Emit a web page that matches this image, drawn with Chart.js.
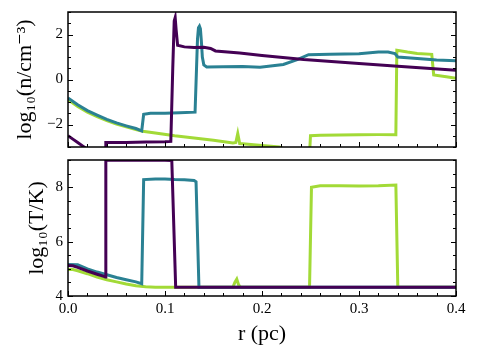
<!DOCTYPE html>
<html>
<head>
<meta charset="utf-8">
<script src="https://cdn.jsdelivr.net/npm/chart.js@4.4.1/dist/chart.umd.min.js"></script>
<style>
  body { margin: 0; background: #fff; width: 478px; height: 357px; position: relative; overflow: hidden; }
  canvas { position: absolute; left: 0; }
</style>
</head>
<body>
<canvas id="densChart" width="478" height="150" style="top:0px"></canvas>
<canvas id="tempChart" width="478" height="207" style="top:150px"></canvas>
<script>
// radius (pc) and log10 density for each run
const rPurpleN = [0, 0.005, 0.01, 0.015, 0.02, 0.035, 0.0385, 0.039, 0.06, 0.08, 0.1, 0.106, 0.108, 0.1095, 0.1105, 0.1115, 0.113, 0.12, 0.13, 0.14, 0.147, 0.152, 0.177, 0.2, 0.243, 0.3, 0.34, 0.4];
const logNPurple = [-2.5, -2.65, -2.8, -2.95, -3.1, -3.5, -3.5, -2.8, -2.8, -2.78, -2.77, -2.75, 0.5, 2.6, 2.75, 2.2, 1.52, 1.45, 1.42, 1.43, 1.38, 1.27, 1.18, 1.07, 0.89, 0.71, 0.59, 0.41];

const rTealN = [0, 0.01, 0.02, 0.03, 0.04, 0.05, 0.06, 0.07, 0.076, 0.078, 0.085, 0.1, 0.115, 0.131, 0.1325, 0.1335, 0.1345, 0.1355, 0.1365, 0.1375, 0.1385, 0.14, 0.143, 0.16, 0.18, 0.198, 0.222, 0.237, 0.248, 0.27, 0.3, 0.32, 0.33, 0.337, 0.34, 0.36, 0.38, 0.4];
const logNTeal = [-0.82, -1.12, -1.38, -1.58, -1.77, -1.93, -2.06, -2.18, -2.28, -1.55, -1.5, -1.5, -1.48, -1.45, 0.5, 1.8, 2.3, 2.37, 2.25, 1.7, 1.0, 0.65, 0.56, 0.57, 0.58, 0.55, 0.67, 0.89, 1.1, 1.12, 1.14, 1.22, 1.22, 1.15, 1.0, 0.93, 0.87, 0.83];

const rGreenN = [0, 0.01, 0.02, 0.03, 0.04, 0.05, 0.06, 0.07, 0.077, 0.09, 0.11, 0.13, 0.15, 0.17, 0.173, 0.175, 0.177, 0.18, 0.2, 0.218, 0.23, 0.249, 0.25, 0.26, 0.28, 0.3, 0.32, 0.338, 0.339, 0.35, 0.36, 0.375, 0.377, 0.39, 0.4];
const logNGreen = [-0.9, -1.2, -1.45, -1.65, -1.83, -1.98, -2.1, -2.22, -2.3, -2.38, -2.5, -2.6, -2.7, -2.82, -2.8, -2.4, -2.85, -2.86, -2.93, -3.0, -3.2, -3.3, -2.5, -2.48, -2.47, -2.46, -2.45, -2.45, 1.3, 1.22, 1.16, 1.12, 0.2, 0.12, 0.06];

// radius (pc) and log10 temperature for each run
const rPurpleT = [0, 0.005, 0.01, 0.02, 0.03, 0.037, 0.0385, 0.039, 0.06, 0.08, 0.1, 0.107, 0.111, 0.4];
const logTPurple = [5.12, 5.11, 5.05, 4.92, 4.8, 4.72, 4.7, 9.0, 8.99, 8.99, 8.99, 8.98, 4.32, 4.32];

const rTealT = [0, 0.01, 0.02, 0.03, 0.04, 0.05, 0.06, 0.07, 0.076, 0.078, 0.09, 0.1, 0.11, 0.12, 0.13, 0.132, 0.135, 0.4];
const logTTeal = [5.16, 5.15, 5.0, 4.88, 4.78, 4.68, 4.6, 4.52, 4.45, 8.28, 8.3, 8.3, 8.28, 8.27, 8.25, 8.2, 4.32, 4.32];

const rGreenT = [0, 0.005, 0.01, 0.02, 0.03, 0.04, 0.05, 0.06, 0.07, 0.08, 0.09, 0.17, 0.172, 0.174, 0.176, 0.178, 0.249, 0.251, 0.26, 0.28, 0.3, 0.32, 0.338, 0.34, 0.4];
const logTGreen = [4.97, 4.97, 4.93, 4.82, 4.7, 4.6, 4.52, 4.44, 4.38, 4.34, 4.32, 4.32, 4.5, 4.62, 4.4, 4.32, 4.32, 8.0, 8.05, 8.05, 8.04, 8.05, 8.08, 4.32, 4.32];

const xTicks = [0, 0.1, 0.2, 0.3, 0.4];
const nTicks = [-2, 0, 2];
const tTicks = [4, 6, 8];

const PURPLE = '#440154', TEAL = '#2a8193', GREEN = '#a2da37';
const SERIF = "'Liberation Serif', 'DejaVu Serif', serif";

function pts(xs, ys) {
  return xs.map((x, i) => ({ x: x, y: ys[i] }));
}

function fmt(v) {
  return v < 0 ? '\u2212' + Math.abs(v) : String(v);
}

// inward tick marks on left, right and bottom plus the box
const frameTicks = {
  id: 'frameTicks',
  afterDraw(chart) {
    const { ctx, chartArea: a, scales } = chart;
    const x = scales.x, y = scales.y;
    const line = (x1, y1, x2, y2) => { ctx.beginPath(); ctx.moveTo(x1, y1); ctx.lineTo(x2, y2); ctx.stroke(); };
    ctx.save();
    ctx.strokeStyle = '#000';
    ctx.lineWidth = 1;
    for (let i = 0; i <= 20; i++) {
      const v = i * 0.02;
      const px = Math.round(x.getPixelForValue(v)) + 0.5;
      const len = i % 5 === 0 ? 5 : 3;
      line(px, a.bottom, px, a.bottom - len);
    }
    for (let i = 0; ; i++) {
      const v = y.min + i * 0.5;
      if (v > y.max + 1e-9) break;
      const py = Math.round(y.getPixelForValue(v)) + 0.5;
      const len = Math.abs(v % 2) < 1e-9 ? 5 : 3;
      line(a.left, py, a.left + len, py);
      line(a.right, py, a.right - len, py);
    }
    ctx.lineWidth = 1.5;
    ctx.strokeRect(a.left, a.top, a.right - a.left, a.bottom - a.top);
    ctx.restore();
  }
};

function noPad(s) {
  s.paddingTop = 0; s.paddingBottom = 0; s.paddingLeft = 0; s.paddingRight = 0;
}

function makePanel(id, sets, yMin, yMax, yTickVals, yTitle, titlePad, showX, pad) {
  return new Chart(document.getElementById(id).getContext('2d'), {
    type: 'line',
    data: {
      datasets: sets.map(s => ({
        data: s.data,
        borderColor: s.color,
        borderWidth: 3,
        pointRadius: 0,
        tension: 0,
        fill: false,
        clip: 0,
        order: s.order
      }))
    },
    options: {
      responsive: false,
      animation: false,
      devicePixelRatio: 1,
      layout: { padding: pad },
      plugins: { legend: { display: false }, tooltip: { enabled: false } },
      scales: {
        x: {
          type: 'linear',
          min: 0,
          max: 0.4,
          display: showX,
          grid: { display: false, drawTicks: false },
          border: { display: false },
          afterBuildTicks: s => { s.ticks = xTicks.map(v => ({ value: v })); },
          afterFit: s => { noPad(s); if (showX) s.height = 61; },
          ticks: {
            padding: 4,
            color: '#000',
            font: { family: SERIF, size: 15 },
            callback: v => v.toFixed(1)
          },
          title: {
            display: showX,
            text: 'r (pc)',
            color: '#000',
            font: { family: SERIF, size: 22 },
            padding: { top: 0, bottom: 10 }
          }
        },
        y: {
          min: yMin,
          max: yMax,
          grid: { display: false, drawTicks: false },
          border: { display: false },
          afterBuildTicks: s => { s.ticks = yTickVals.map(v => ({ value: v })); },
          afterFit: s => { noPad(s); s.width = 68; },
          ticks: {
            padding: 5,
            color: '#000',
            font: { family: SERIF, size: 15 },
            callback: v => fmt(v)
          },
          title: {
            display: true,
            text: yTitle,
            color: '#000',
            font: { family: SERIF, size: 22 },
            padding: { top: titlePad, bottom: 0 }
          }
        }
      }
    },
    plugins: [frameTicks]
  });
}

makePanel('densChart', [
  { data: pts(rPurpleN, logNPurple), color: PURPLE, order: 0 },
  { data: pts(rTealN, logNTeal), color: TEAL, order: 1 },
  { data: pts(rGreenN, logNGreen), color: GREEN, order: 2 }
], -3, 3, nTicks, 'log\u2081\u2080(n/cm\u207B\u00B3)', 12, false, { left: 0, right: 22, top: 12, bottom: 3 });

makePanel('tempChart', [
  { data: pts(rPurpleT, logTPurple), color: PURPLE, order: 0 },
  { data: pts(rTealT, logTTeal), color: TEAL, order: 1 },
  { data: pts(rGreenT, logTGreen), color: GREEN, order: 2 }
], 4, 9, tTicks, 'log\u2081\u2080(T/K)', 24, true, { left: 0, right: 22, top: 10, bottom: 0 });
</script>
</body>
</html>
